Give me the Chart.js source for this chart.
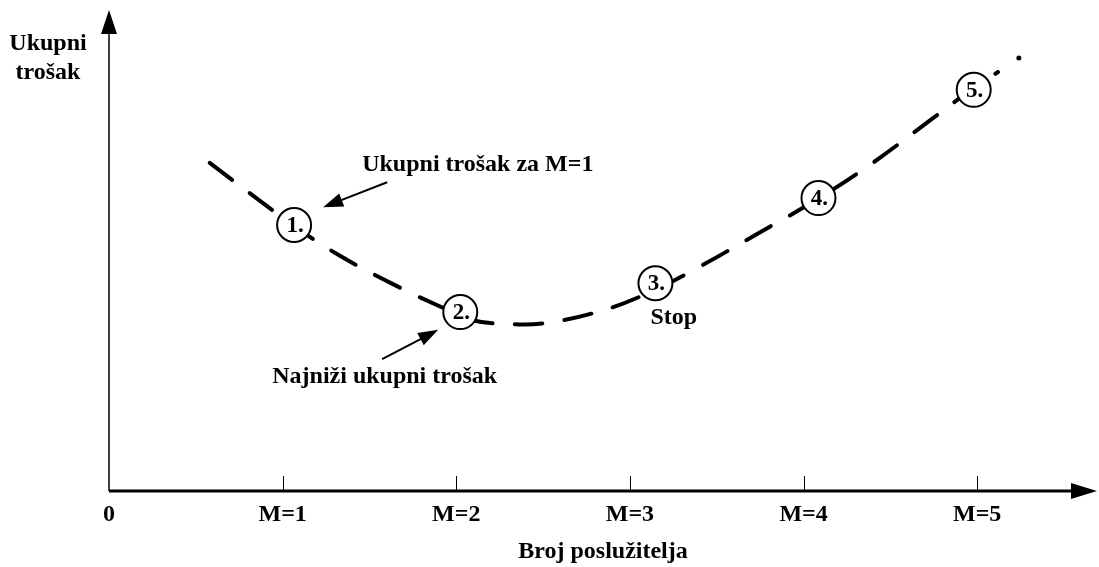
<!DOCTYPE html>
<html>
<head>
<meta charset="utf-8">
<script src="https://cdn.jsdelivr.net/npm/chart.js@4.4.1/dist/chart.umd.min.js"></script>
<style>
  html, body { margin: 0; padding: 0; background: #fff; }
  canvas { display: block; }
</style>
</head>
<body>
<canvas id="chart" width="1099" height="567"></canvas>
<script>
// Data
const tickValues = [0, 1, 2, 3, 4, 5];
const tickLabels = ['0', 'M=1', 'M=2', 'M=3', 'M=4', 'M=5'];

// total cost curve
const curveX = [0.58, 1.06, 1.33, 1.68, 1.91, 2.08, 2.31, 2.51, 2.83, 3.12, 3.41, 3.75, 4.09, 4.39, 4.73, 4.98, 5.12];
const curveY = [68.2, 55.3, 48.9, 42.2, 38.3, 35.6, 34.7, 34.9, 37.4, 41.4, 46.8, 53.8, 60.9, 68.0, 77.1, 83.8, 87.1];

// trailing dot after the curve
const dotX = [5.24];
const dotY = [90.0];

// numbered steps
const stepLabels = ['1.', '2.', '3.', '4.', '5.'];
const stepX = [1.066, 2.023, 3.147, 4.086, 4.98];
const stepY = [55.3, 37.2, 43.2, 60.9, 83.4];

// text notes and their arrows (data units)
const notes = [
    { text: 'Ukupni trošak za M=1', x: 1.458, y: 66.5 },
    { text: 'Najniži ukupni trošak', x: 0.94, y: 22.5 },
    { text: 'Stop', x: 3.118, y: 34.7 }
];
const arrows = [
    { from: [1.602, 64.2], to: [1.233, 59.0] },
    { from: [1.573, 27.4], to: [1.896, 33.5] }
];

const FONT = "'Liberation Serif', 'Times New Roman', serif";

function toPoints(xs, ys) {
    return xs.map((x, i) => ({ x: x, y: ys[i] }));
}

function arrowHead(ctx, x1, y1, x2, y2, len, half) {
    const a = Math.atan2(y2 - y1, x2 - x1);
    ctx.beginPath();
    ctx.moveTo(x2, y2);
    ctx.lineTo(x2 - len * Math.cos(a) + half * Math.sin(a), y2 - len * Math.sin(a) - half * Math.cos(a));
    ctx.lineTo(x2 - len * Math.cos(a) - half * Math.sin(a), y2 - len * Math.sin(a) + half * Math.cos(a));
    ctx.closePath();
    ctx.fill();
}

// Axes, arrows, labels
const figurePlugin = {
    id: 'figure',
    afterDraw(chart) {
        const ctx = chart.ctx;
        const area = chart.chartArea;
        const xs = chart.scales.x;
        const ys = chart.scales.y;
        ctx.save();
        ctx.fillStyle = '#000';
        ctx.strokeStyle = '#000';

        // y axis
        ctx.lineWidth = 1.5;
        ctx.beginPath();
        ctx.moveTo(area.left, area.bottom);
        ctx.lineTo(area.left, area.top + 20);
        ctx.stroke();
        arrowHead(ctx, area.left, area.bottom, area.left, area.top, 24, 8);

        // x axis
        ctx.lineWidth = 3;
        ctx.beginPath();
        ctx.moveTo(area.left, area.bottom);
        ctx.lineTo(area.right - 20, area.bottom);
        ctx.stroke();
        arrowHead(ctx, area.left, area.bottom, area.right, area.bottom, 26, 8);

        // tick marks
        ctx.lineWidth = 1;
        tickValues.forEach(v => {
            if (v === 0) return;
            const px = Math.round(xs.getPixelForValue(v)) + 0.5;
            ctx.beginPath();
            ctx.moveTo(px, area.bottom);
            ctx.lineTo(px, area.bottom - 15);
            ctx.stroke();
        });

        // y axis title
        ctx.font = 'bold 24px ' + FONT;
        ctx.textAlign = 'center';
        ctx.textBaseline = 'alphabetic';
        ctx.fillText('Ukupni', area.left - 61, area.top + 40);
        ctx.fillText('trošak', area.left - 61, area.top + 69);

        // notes
        ctx.textAlign = 'left';
        notes.forEach(n => {
            ctx.fillText(n.text, xs.getPixelForValue(n.x), ys.getPixelForValue(n.y));
        });

        // note arrows
        ctx.lineWidth = 2;
        arrows.forEach(a => {
            const x1 = xs.getPixelForValue(a.from[0]), y1 = ys.getPixelForValue(a.from[1]);
            const x2 = xs.getPixelForValue(a.to[0]), y2 = ys.getPixelForValue(a.to[1]);
            const ang = Math.atan2(y2 - y1, x2 - x1);
            ctx.beginPath();
            ctx.moveTo(x1, y1);
            ctx.lineTo(x2 - 14 * Math.cos(ang), y2 - 14 * Math.sin(ang));
            ctx.stroke();
            arrowHead(ctx, x1, y1, x2, y2, 20, 7);
        });

        // step numbers inside circles
        const meta = chart.getDatasetMeta(0);
        ctx.font = 'bold 23px ' + FONT;
        ctx.textAlign = 'center';
        ctx.textBaseline = 'middle';
        meta.data.forEach((pt, i) => {
            ctx.fillText(stepLabels[i], pt.x + 1, pt.y + 1);
        });
        ctx.restore();
    }
};

new Chart(document.getElementById('chart'), {
    type: 'scatter',
    data: {
        datasets: [
            {
                label: 'Koraci',
                data: toPoints(stepX, stepY),
                order: 0,
                pointRadius: 17,
                pointBackgroundColor: '#fff',
                pointBorderColor: '#000',
                pointBorderWidth: 2,
                showLine: false
            },
            {
                label: 'Ukupni trošak',
                data: toPoints(curveX, curveY),
                order: 1,
                showLine: true,
                borderColor: '#000',
                borderWidth: 4,
                borderDash: [28, 22],
                borderCapStyle: 'round',
                tension: 0.4,
                pointRadius: 0
            },
            {
                label: 'Kraj',
                data: toPoints(dotX, dotY),
                order: 2,
                pointRadius: 2.5,
                pointBackgroundColor: '#000',
                pointBorderWidth: 0
            }
        ]
    },
    options: {
        responsive: false,
        animation: false,
        layout: { autoPadding: false, padding: { left: 109, right: 2, top: 10, bottom: 0 } },
        plugins: {
            legend: { display: false },
            tooltip: { enabled: false }
        },
        scales: {
            x: {
                type: 'linear',
                min: 0,
                max: 5.69,
                grid: { display: false },
                border: { display: false },
                afterBuildTicks: scale => {
                    scale.ticks = tickValues.map(v => ({ value: v }));
                },
                afterFit: scale => { scale.height = 76; },
                ticks: {
                    autoSkip: false,
                    maxRotation: 0,
                    padding: 1,
                    color: '#000',
                    font: { family: FONT, size: 24, weight: 'bold' },
                    callback: (value, index) => tickLabels[index]
                },
                title: {
                    display: true,
                    text: 'Broj poslužitelja',
                    color: '#000',
                    font: { family: FONT, size: 24, weight: 'bold' },
                    padding: { top: 0, bottom: 1 }
                }
            },
            y: {
                display: false,
                min: 0,
                max: 100
            }
        }
    },
    plugins: [figurePlugin]
});
</script>
</body>
</html>
